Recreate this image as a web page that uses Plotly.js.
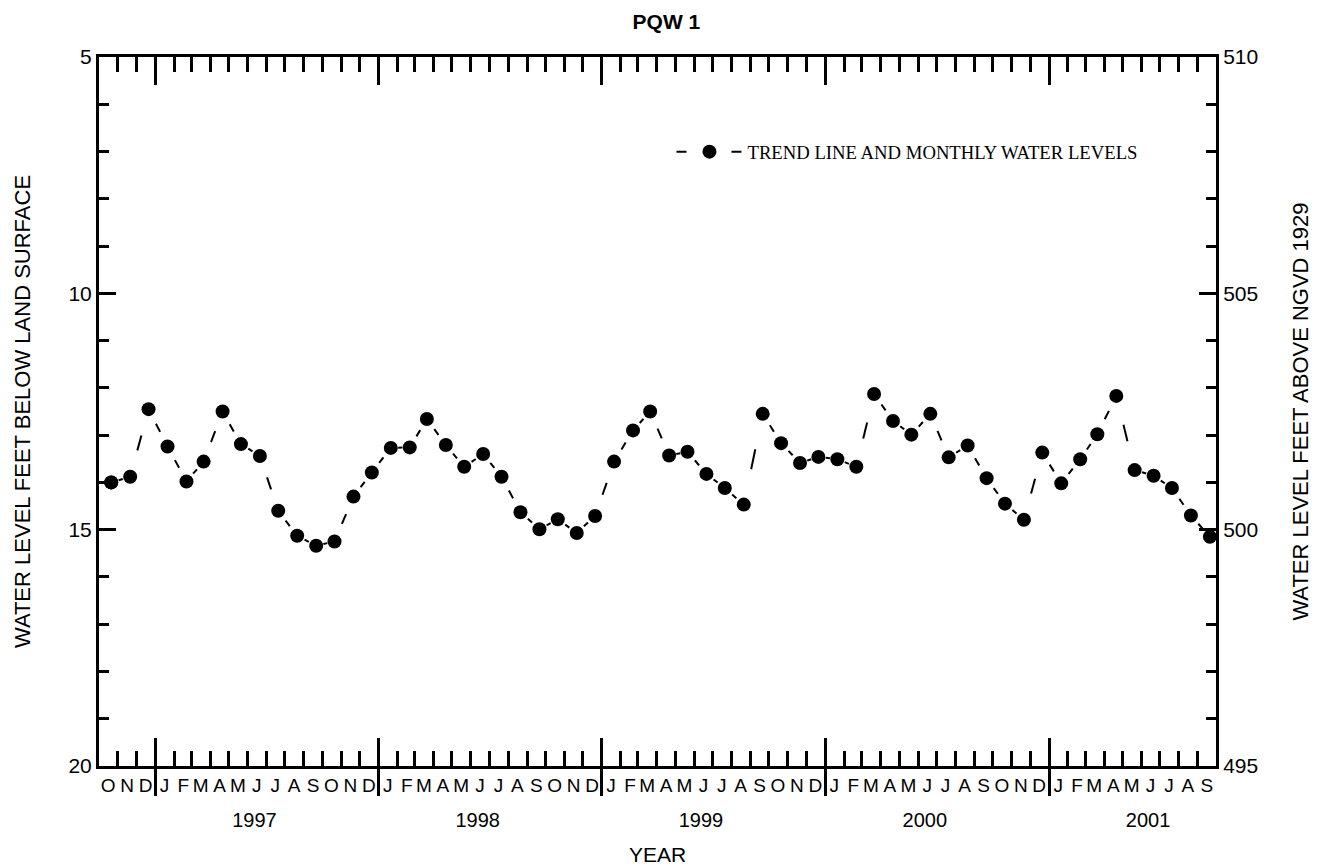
<!DOCTYPE html>
<html>
<head>
<meta charset="utf-8">
<script src="https://cdn.plot.ly/plotly-3.0.1.min.js"></script>
<style>
  html, body { margin: 0; padding: 0; background: #fff; }
  #chart { width: 1317px; height: 866px; }
</style>
</head>
<body>
<div id="chart"></div>
<script>
// ---- data ----
const months = [
  '1996-10','1996-11','1996-12',
  '1997-01','1997-02','1997-03','1997-04','1997-05','1997-06','1997-07','1997-08','1997-09','1997-10','1997-11','1997-12',
  '1998-01','1998-02','1998-03','1998-04','1998-05','1998-06','1998-07','1998-08','1998-09','1998-10','1998-11','1998-12',
  '1999-01','1999-02','1999-03','1999-04','1999-05','1999-06','1999-07','1999-08','1999-09','1999-10','1999-11','1999-12',
  '2000-01','2000-02','2000-03','2000-04','2000-05','2000-06','2000-07','2000-08','2000-09','2000-10','2000-11','2000-12',
  '2001-01','2001-02','2001-03','2001-04','2001-05','2001-06','2001-07','2001-08','2001-09'
];
// water level, feet below land surface
const depthFt = [
  14.00, 13.88, 12.45,
  13.24, 13.98, 13.56, 12.50, 13.19, 13.44, 14.60, 15.13, 15.34, 15.25, 14.30, 13.79,
  13.27, 13.26, 12.66, 13.21, 13.67, 13.40, 13.88, 14.63, 14.99, 14.78, 15.07, 14.71,
  13.56, 12.90, 12.50, 13.43, 13.35, 13.82, 14.12, 14.47, 12.55, 13.17, 13.59, 13.46,
  13.51, 13.67, 12.13, 12.70, 12.99, 12.55, 13.47, 13.22, 13.91, 14.45, 14.79, 13.37,
  14.02, 13.51, 12.98, 12.17, 13.74, 13.86, 14.12, 14.70, 15.15
];
const monthInitials = ['J','F','M','A','M','J','J','A','S','O','N','D'];
const yearLabels = ['1997','1998','1999','2000','2001'];
const landSurfaceFt = 515;          // altitude of land surface, ft above NGVD 1929
const depthRange = [20, 5];         // left axis (reversed)
const seriesName = 'TREND LINE AND MONTHLY WATER LEVELS';
const titleText = 'PQW 1';

// ---- helpers ----
function ymParts(ym) { const p = ym.split('-').map(Number); return { y: p[0], m: p[1] }; }
function ms(y, m, d) { return Date.UTC(y, m - 1, d); }

const OBS_DAY = 21;
const xPts = months.map(s => { const p = ymParts(s); return ms(p.y, p.m, OBS_DAY); });

// month boundaries (one more than the number of months)
const monthStarts = months.map(s => { const p = ymParts(s); return ms(p.y, p.m, 1); });
const lastP = ymParts(months[months.length - 1]);
monthStarts.push(ms(lastP.y, lastP.m + 1, 1));
const monthMids = months.map(s => { const p = ymParts(s); return ms(p.y, p.m, 16); });
const monthText = months.map(s => monthInitials[ymParts(s).m - 1]);
const yearStarts = months.filter(s => ymParts(s).m === 1).map(s => ms(ymParts(s).y, 1, 1));
const yearMids = yearLabels.map(y => ms(Number(y), 6, 12));
const xRange = [monthStarts[0], monthStarts[monthStarts.length - 1]];

// trend line: a centred dash on every segment between monthly values
const segX = [], segY = [];
for (let i = 0; i < xPts.length - 1; i++) {
  const x0 = xPts[i], x1 = xPts[i + 1], y0 = depthFt[i], y1 = depthFt[i + 1];
  [0.39, 0.61].forEach(f => { segX.push(x0 + (x1 - x0) * f); segY.push(y0 + (y1 - y0) * f); });
  segX.push(null); segY.push(null);
}

const FONT = 'Liberation Sans, Arial, Helvetica, sans-serif';
const SERIF = 'Liberation Serif, Times New Roman, serif';
const BLACK = '#000';

const traces = [
  { x: segX, y: segY, mode: 'lines', line: { color: BLACK, width: 2 }, connectgaps: false,
    showlegend: false, hoverinfo: 'skip', cliponaxis: false },
  { x: xPts, y: depthFt, mode: 'markers', marker: { size: 14, color: BLACK },
    showlegend: false, cliponaxis: false, name: seriesName },
  { x: [xPts[0]], y: [depthFt[0]], mode: 'lines+markers', name: seriesName,
    line: { color: BLACK, width: 2, dash: '10px,45px' }, marker: { size: 14, color: BLACK },
    showlegend: true, hoverinfo: 'skip', cliponaxis: false },
  // helper traces so the overlay axes exist
  { x: [], y: [], xaxis: 'x2', yaxis: 'y', showlegend: false, hoverinfo: 'skip' },
  { x: [], y: [], xaxis: 'x3', yaxis: 'y', showlegend: false, hoverinfo: 'skip' },
  { x: [], y: [], xaxis: 'x4', yaxis: 'y', showlegend: false, hoverinfo: 'skip' },
  { x: [], y: [], xaxis: 'x5', yaxis: 'y', showlegend: false, hoverinfo: 'skip' },
  { x: [], y: [], xaxis: 'x', yaxis: 'y2', showlegend: false, hoverinfo: 'skip' }
];

const baseX = { type: 'date', range: xRange, showgrid: false, zeroline: false, fixedrange: true };

const layout = {
  width: 1317, height: 866,
  margin: { l: 99, r: 101, t: 57, b: 100, pad: 0 },
  paper_bgcolor: '#fff', plot_bgcolor: '#fff',
  font: { family: FONT, color: BLACK, size: 20 },
  title: { text: '<b>' + titleText + '</b>', font: { family: FONT, size: 21, color: BLACK },
           xref: 'paper', x: 0.508, xanchor: 'center', yref: 'container', y: 0.975, yanchor: 'middle' },
  showlegend: true,
  legend: { x: 0.5125, xanchor: 'left', y: 0.866, yanchor: 'middle', itemwidth: 66,
            bgcolor: 'rgba(0,0,0,0)', borderwidth: 0,
            font: { family: SERIF, size: 18.7, color: BLACK } },
  xaxis: Object.assign({}, baseX, {
    showline: true, linewidth: 3, linecolor: BLACK, mirror: 'ticks',
    tickmode: 'array', tickvals: monthStarts, ticks: 'inside', ticklen: 15, tickwidth: 3, tickcolor: BLACK,
    showticklabels: false
  }),
  xaxis2: Object.assign({}, baseX, {
    overlaying: 'x', anchor: 'y', showline: false, mirror: 'ticks',
    tickmode: 'array', tickvals: yearStarts, ticks: 'inside', ticklen: 28, tickwidth: 3, tickcolor: BLACK,
    showticklabels: false
  }),
  xaxis3: Object.assign({}, baseX, {
    overlaying: 'x', anchor: 'y', showline: false,
    tickmode: 'array', tickvals: yearStarts, ticks: 'outside', ticklen: 29, tickwidth: 3, tickcolor: BLACK,
    showticklabels: false
  }),
  xaxis4: Object.assign({}, baseX, {
    overlaying: 'x', anchor: 'y', showline: false,
    tickmode: 'array', tickvals: monthMids, ticktext: monthText, ticks: '', tickangle: 0,
    tickfont: { family: FONT, size: 19, color: BLACK }, ticklabelstandoff: 6
  }),
  xaxis5: Object.assign({}, baseX, {
    overlaying: 'x', anchor: 'y', showline: false,
    tickmode: 'array', tickvals: yearMids, ticktext: yearLabels, ticks: '', tickangle: 0,
    tickfont: { family: FONT, size: 20, color: BLACK }, ticklabelstandoff: 40,
    title: { text: 'YEAR', standoff: 21, font: { family: FONT, size: 21, color: BLACK } }
  }),
  yaxis: {
    range: depthRange, showgrid: false, zeroline: false, fixedrange: true,
    showline: true, linewidth: 3, linecolor: BLACK,
    tickmode: 'linear', tick0: 0, dtick: 5, ticks: 'inside', ticklen: 17, tickwidth: 3, tickcolor: BLACK,
    minor: { tickmode: 'linear', tick0: 0, dtick: 1, ticks: 'inside', ticklen: 10, tickwidth: 3, tickcolor: BLACK },
    tickfont: { family: FONT, size: 21, color: BLACK },
    title: { text: 'WATER LEVEL FEET BELOW LAND SURFACE', standoff: 32, font: { family: FONT, size: 22, color: BLACK } }
  },
  yaxis2: {
    overlaying: 'y', side: 'right', anchor: 'x',
    range: [landSurfaceFt - depthRange[0], landSurfaceFt - depthRange[1]],
    showgrid: false, zeroline: false, fixedrange: true,
    showline: true, linewidth: 3, linecolor: BLACK,
    tickmode: 'linear', tick0: 0, dtick: 5, ticks: 'inside', ticklen: 17, tickwidth: 3, tickcolor: BLACK,
    minor: { tickmode: 'linear', tick0: 0, dtick: 1, ticks: 'inside', ticklen: 10, tickwidth: 3, tickcolor: BLACK },
    tickfont: { family: FONT, size: 21, color: BLACK },
    title: { text: 'WATER LEVEL FEET ABOVE NGVD 1929', standoff: 36, font: { family: FONT, size: 22, color: BLACK } }
  }
};

Plotly.newPlot('chart', traces, layout, { staticPlot: true, displayModeBar: false });
</script>
</body>
</html>
